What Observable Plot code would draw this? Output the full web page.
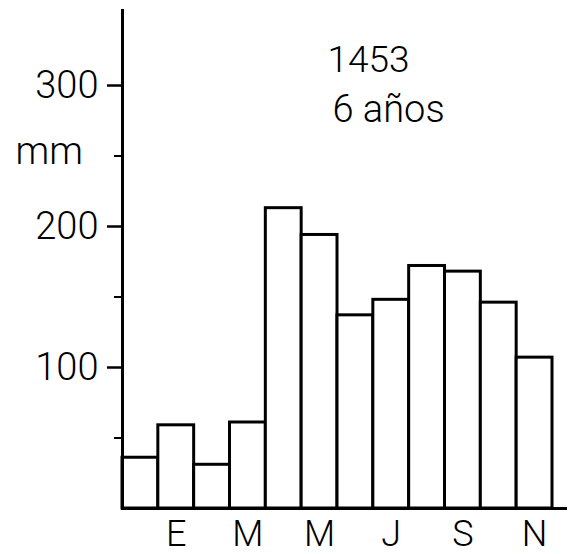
<!DOCTYPE html>
<html>
<head>
<meta charset="utf-8">
<script src="https://cdn.jsdelivr.net/npm/d3@7"></script>
<script src="https://cdn.jsdelivr.net/npm/@observablehq/plot@0.6"></script>
<style>
  html, body { margin: 0; padding: 0; background: #fff; }
  svg { display: block; }
</style>
</head>
<body>
<div id="chart"></div>
<script>
const months = ["Dic","Ene","Feb","Mar","Abr","May","Jun","Jul","Ago","Sep","Oct","Nov"];
const rainfall = [36, 59, 31, 61, 213, 194, 137, 148, 172, 168, 146, 107];
const labeledMonths = ["Ene","Mar","May","Jul","Sep","Nov"];
const majorTicks = [100, 200, 300];
const minorTicks = [50, 150, 250];
const unitLabel = "mm";
const stationLabel = "1453";
const yearsLabel = "6 años";

const data = months.map((m, i) => ({month: m, value: rainfall[i]}));
const font = "Roboto, 'DejaVu Sans', sans-serif";

const chart = Plot.plot({
  width: 572,
  height: 554,
  marginLeft: 122,
  marginRight: 5,
  marginTop: 10,
  marginBottom: 46,
  style: {fontFamily: font, fontWeight: 300, color: "#000", background: "#fff"},
  x: {type: "band", domain: months, range: [122, 552], padding: 0, round: false, align: 0.5},
  y: {domain: [0, 353.2]},
  marks: [
    Plot.barY(data, {x: "month", y: "value", fill: "white", stroke: "black", strokeWidth: 3, insetLeft: 0, insetRight: 0}),
    Plot.ruleY([0], {stroke: "black", strokeWidth: 3}),
    Plot.frame({anchor: "left", stroke: "black", strokeWidth: 3}),
    Plot.axisY({ticks: majorTicks, tickSize: 15, tickPadding: 9, fontSize: 38, strokeWidth: 2.5, label: null, tickFormat: d => String(d)}),
    Plot.axisY({ticks: minorTicks, tickSize: 8, text: null, strokeWidth: 2, label: null}),
    Plot.axisX({ticks: labeledMonths, tickSize: 0, tickPadding: 12, fontSize: 36, label: null, tickFormat: d => d[0]}),
    Plot.text([unitLabel], {frameAnchor: "top-left", dx: -107, dy: 127, textAnchor: "start", lineAnchor: "top", fontSize: 38, text: d => d}),
    Plot.text([stationLabel], {frameAnchor: "top-left", dx: 205, dy: 35, textAnchor: "start", lineAnchor: "top", fontSize: 37, text: d => d}),
    Plot.text([yearsLabel], {frameAnchor: "top-left", dx: 210, dy: 85, textAnchor: "start", lineAnchor: "top", fontSize: 38, text: d => d})
  ]
});
document.getElementById("chart").appendChild(chart);
</script>
</body>
</html>
